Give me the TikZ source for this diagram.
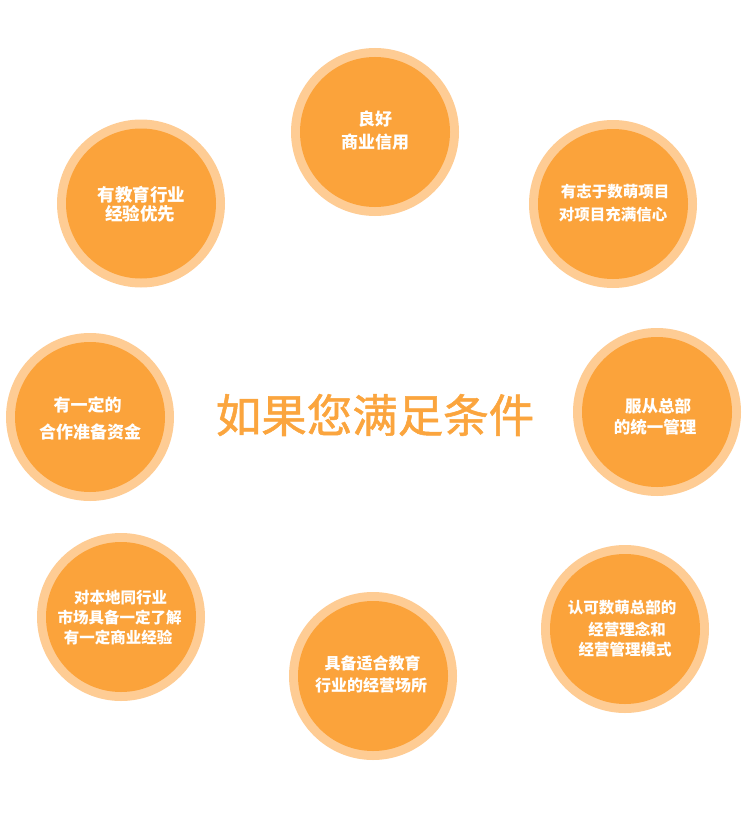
\documentclass[tikz,border=0pt]{standalone}
\usepackage{fontspec}
\newfontfamily\cjk{Noto Sans CJK SC}
\newfontfamily\cjkmed{Noto Sans CJK SC}[FakeBold=1.2]
\definecolor{innerc}{RGB}{251,163,59}
\definecolor{outerc}{RGB}{254,204,148}
\definecolor{titlec}{RGB}{251,165,62}
\begin{document}
\begin{tikzpicture}[x=1pt,y=-1pt,
  ring/.style={circle,fill=outerc,minimum size=168pt,inner sep=0pt},
  disc/.style={circle,fill=innerc,minimum size=150pt,inner sep=0pt},
  lbl/.style={text=white,inner sep=0pt,font=\cjk\bfseries\fontsize{#1}{#1}\selectfont},
  lbl/.default=16]
\useasboundingbox (0,0) rectangle (750,816);
% top
\node[ring] (r1) at (375,132) {};
\node[disc] (c1) at (375,132) {};
\node[lbl=17] (t1a) at (375,119) {良好};
\node[lbl=17] (t1b) at (375,142) {商业信用};
% top right
\node[ring] (r2) at (613,204) {};
\node[disc] (c2) at (613,204) {};
\node[lbl=15.5] (t2a) at (615,192) {有志于数萌项目};
\node[lbl=15.5] (t2b) at (613,215) {对项目充满信心};
% right
\node[ring] (r3) at (657,412) {};
\node[disc] (c3) at (657,412) {};
\node[lbl=16.5] (t3a) at (658,406) {服从总部};
\node[lbl=16.5] (t3b) at (655,427) {的统一管理};
% bottom right
\node[ring] (r4) at (625,629) {};
\node[disc] (c4) at (625,629) {};
\node[lbl=15.5] (t4a) at (622,608) {认可数萌总部的};
\node[lbl=15.5] (t4b) at (627,629) {经营理念和};
\node[lbl=15.5] (t4c) at (625,650) {经营管理模式};
% bottom
\node[ring] (r5) at (373,676) {};
\node[disc] (c5) at (373,676) {};
\node[lbl=16] (t5a) at (372.5,663) {具备适合教育};
\node[lbl=16] (t5b) at (371,685) {行业的经营场所};
% bottom left
\node[ring] (r6) at (121,617) {};
\node[disc] (c6) at (121,617) {};
\node[lbl=15.5] (t6a) at (120.5,598) {对本地同行业};
\node[lbl=15.5] (t6b) at (119.5,618) {市场具备一定了解};
\node[lbl=15.5] (t6c) at (118,638) {有一定商业经验};
% left
\node[ring] (r7) at (90,417) {};
\node[disc] (c7) at (90,417) {};
\node[lbl=17] (t7a) at (87.5,405) {有一定的};
\node[lbl=17] (t7b) at (90,432) {合作准备资金};
% top left
\node[ring] (r8) at (141,203.5) {};
\node[disc] (c8) at (141,203.5) {};
\node[lbl=17.5] (t8a) at (141.5,195) {有教育行业};
\node[lbl=17.5] (t8b) at (140,214) {经验优先};
% centre title
\node[text=titlec,inner sep=0pt,font=\cjkmed\fontsize{45.5}{45.5}\selectfont] (title) at (375,415) {如果您满足条件};
\end{tikzpicture}
\end{document}
